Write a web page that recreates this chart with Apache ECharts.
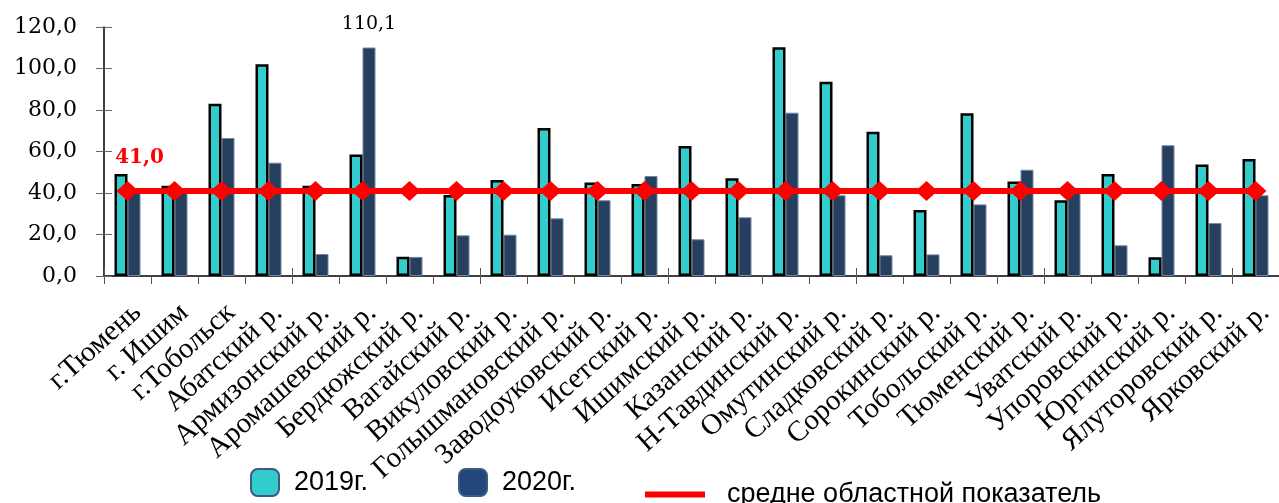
<!DOCTYPE html>
<html>
<head>
<meta charset="utf-8">
<script src="https://cdn.jsdelivr.net/npm/echarts@6/dist/echarts.min.js"></script>
<style>
  html, body { margin: 0; padding: 0; background: #fff; }
  #chart { width: 1279px; height: 503px; }
</style>
</head>
<body>
<div id="chart"></div>
<script>
// Districts of the region
var categories = ['г.Тюмень', 'г. Ишим', 'г.Тобольск', 'Абатский р.', 'Армизонский р.',
  'Аромашевский р.', 'Бердюжский р.', 'Вагайский р.', 'Викуловский р.', 'Голышмановский р.',
  'Заводоуковский р.', 'Исетский р.', 'Ишимский р.', 'Казанский р.', 'Н-Тавдинский р.',
  'Омутинский р.', 'Сладковский р.', 'Сорокинский р.', 'Тобольский р.', 'Тюменский р.',
  'Уватский р.', 'Упоровский р.', 'Юргинский р.', 'Ялуторовский р.', 'Ярковский р.'];

var values2019 = [49.2, 43.5, 83.0, 102.0, 43.5, 58.6, 9.3, 39.0, 46.3, 71.3,
  45.1, 44.3, 62.7, 47.1, 110.2, 93.6, 69.5, 31.8, 78.4, 45.6,
  36.5, 49.2, 9.0, 53.7, 56.4];

var values2020 = [40.0, 41.5, 66.5, 54.6, 10.6, 110.1, 9.2, 19.6, 19.9, 27.8,
  36.5, 48.2, 17.7, 28.3, 78.7, 38.9, 10.0, 10.4, 34.5, 51.2,
  40.5, 14.8, 63.0, 25.5, 38.9];

// Regional average
var regionAverage = [41.0, 41.0, 41.0, 41.0, 41.0, 41.0, 41.0, 41.0, 41.0, 41.0,
  41.0, 41.0, 41.0, 41.0, 41.0, 41.0, 41.0, 41.0, 41.0, 41.0,
  41.0, 41.0, 41.0, 41.0, 41.0];

var yTicks = { min: 0, max: 120, interval: 20 };

var seriesNames = ['2019г.', '2020г.', 'средне областной показатель'];
var labeledDistrict = 'Аромашевский р.';

function fmt(v) { return v.toFixed(1).replace('.', ','); }

var data2020 = values2020.map(function (v, i) {
  if (categories[i] === labeledDistrict) {
    return {
      value: v,
      label: {
        show: true, position: 'top', distance: 14,
        formatter: function (p) { return fmt(p.value); },
        color: '#000', fontFamily: 'DejaVu Serif', fontSize: 19
      }
    };
  }
  return v;
});

var dataAvg = regionAverage.map(function (v, i) {
  if (i === 0) {
    return {
      value: v,
      label: {
        show: true, position: 'top', offset: [12, -8],
        formatter: function (p) { return fmt(p.value); },
        color: '#ff0000', fontFamily: 'DejaVu Serif', fontWeight: 'bold', fontSize: 20
      }
    };
  }
  return v;
});

var serif = 'Liberation Serif';
var sans = 'Liberation Sans';

var chart = echarts.init(document.getElementById('chart'), null, { renderer: 'canvas' });

var legendText = { color: '#000', fontFamily: sans, fontSize: 27 };

chart.setOption({
  animation: false,
  backgroundColor: '#fff',
  grid: { left: 104, top: 27, width: 1182, height: 249 },
  legend: [
    {
      data: [seriesNames[0]], left: 250, top: 468, padding: 0, itemWidth: 28, itemHeight: 27,
      itemStyle: { color: '#33cccc', borderColor: '#3b5b86', borderWidth: 2 },
      textStyle: Object.assign({ padding: [8, 0, 0, 10] }, legendText)
    },
    {
      data: [seriesNames[1]], left: 458, top: 468, padding: 0, itemWidth: 28, itemHeight: 27,
      itemStyle: { color: '#22477a', borderColor: '#3b5b86', borderWidth: 2 },
      textStyle: Object.assign({ padding: [8, 0, 0, 10] }, legendText)
    },
    {
      data: [{ name: seriesNames[2], icon: 'rect' }], left: 645, top: 481, padding: 0,
      itemWidth: 60, itemHeight: 6,
      textStyle: Object.assign({ padding: [6, 0, 0, 17] }, legendText)
    }
  ],
  xAxis: [
    {
      type: 'category', data: categories, position: 'bottom',
      axisLine: { lineStyle: { color: '#000', width: 1.5 } },
      axisTick: { show: true, length: 8, lineStyle: { color: '#555' } },
      axisLabel: {
        rotate: 42, margin: 22, align: 'right', verticalAlign: 'top',
        color: '#000', fontFamily: serif, fontSize: 29, interval: 0
      }
    },
    {
      type: 'category', data: categories, position: 'bottom',
      axisLine: { show: false },
      axisTick: { show: true, inside: true, length: 8, lineStyle: { color: '#555' } },
      axisLabel: { show: false }
    }
  ],
  yAxis: [
    {
      type: 'value', min: yTicks.min, max: yTicks.max, interval: yTicks.interval, position: 'left',
      splitLine: { show: false },
      axisLine: { show: true, lineStyle: { color: '#000', width: 1.5 } },
      axisTick: { show: true, length: 8, lineStyle: { color: '#666' } },
      axisLabel: {
        margin: 27, color: '#000', fontFamily: 'DejaVu Serif', fontSize: 22,
        formatter: function (v) { return fmt(v); }
      }
    },
    {
      type: 'value', min: yTicks.min, max: yTicks.max, interval: yTicks.interval, position: 'left',
      splitLine: { show: false },
      axisLine: { show: false },
      axisTick: { show: true, inside: true, length: 8, lineStyle: { color: '#666' } },
      axisLabel: { show: false }
    }
  ],
  series: [
    {
      name: seriesNames[0], type: 'bar', data: values2019, barWidth: 13, barGap: '0%', z: 3,
      itemStyle: { color: '#33cccc', borderColor: '#000', borderWidth: 2.5 }
    },
    {
      name: seriesNames[1], type: 'bar', data: data2020, barWidth: 13, barGap: '0%', z: 2,
      itemStyle: { color: '#263f5f', borderColor: '#7086a2', borderWidth: 1 }
    },
    {
      name: seriesNames[2], type: 'line', data: dataAvg, z: 5,
      symbol: 'diamond', symbolSize: [22, 20],
      lineStyle: { color: '#ff0000', width: 6 },
      itemStyle: { color: '#ff0000' }
    }
  ]
});
</script>
</body>
</html>
